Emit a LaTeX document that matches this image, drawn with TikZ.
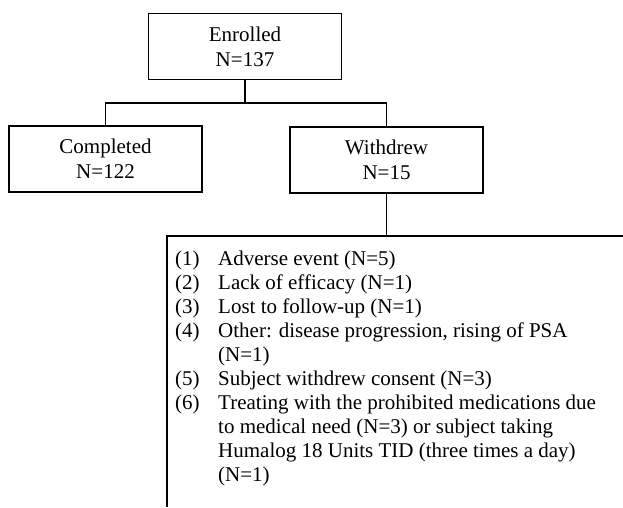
\documentclass[tikz,border=0pt]{standalone}
\usepackage{fontspec}
\setmainfont{Liberation Serif}
\usetikzlibrary{positioning,calc}

\begin{document}
\begin{tikzpicture}[
  x=1pt, y=-1pt,
  flowbox/.style={rectangle, draw, line width=1.1pt, minimum width=193pt, minimum height=66pt, align=center, font=\fontsize{21}{25}\selectfont},
  reasonlist/.style={rectangle, inner xsep=8pt, inner ysep=12pt, align=left, font=\fontsize{21}{24}\selectfont},
  link/.style={line width=1.1pt}
]
\useasboundingbox (0,0) rectangle (623,507);

% boxes
\node[flowbox] (enrolled) at (245,46.5) {Enrolled\\N=137};
\node[flowbox] (completed) at (105.5,159) {Completed\\N=122};
\node[flowbox] (withdrew) at (386.5,160) {Withdrew\\N=15};

% reasons for withdrawal
\node[reasonlist, anchor=north west] (reasons) at (167,236) {%
\begin{tabular}{@{}p{43pt}@{}l@{}}
(1) & Adverse event (N=5)\\
(2) & Lack of efficacy (N=1)\\
(3) & Lost to follow-up (N=1)\\
(4) & Other: disease progression, rising of PSA\\
    & (N=1)\\
(5) & Subject withdrew consent (N=3)\\
(6) & Treating with the prohibited medications due\\
    & to medical need (N=3) or subject taking\\
    & Humalog 18 Units TID (three times a day)\\
    & (N=1)
\end{tabular}};
\draw[link] (reasons.north west |- 0,507) -- (reasons.north west) -- (reasons.north west -| 623,0);

% connectors
\coordinate (split) at (enrolled.south |- 0,103);
\draw[link] (enrolled.south) -- (split);
\draw[link] (completed.north) |- (split) -| (withdrew.north);
\draw[link] (withdrew.south) -- (withdrew.south |- reasons.north);

\end{tikzpicture}
\end{document}
